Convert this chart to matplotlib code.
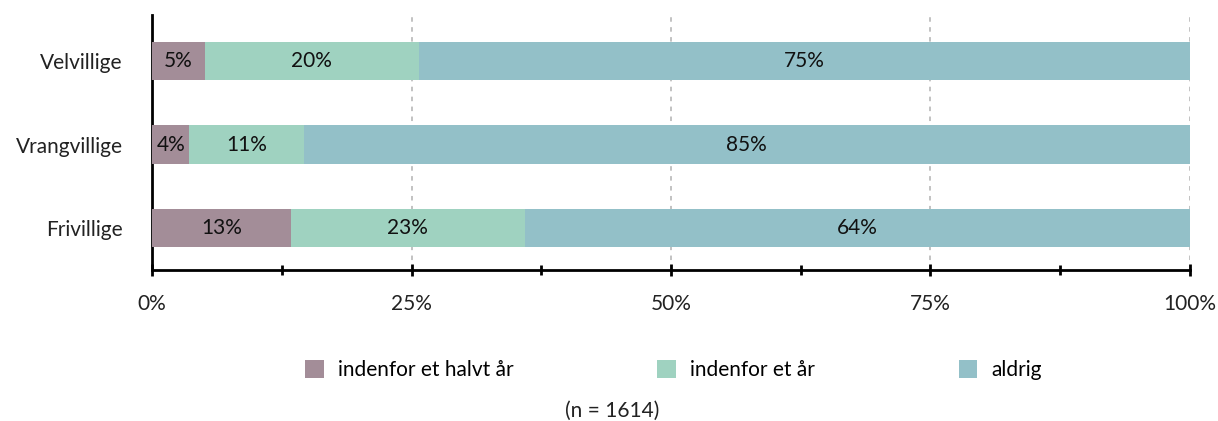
import numpy as np
import matplotlib.pyplot as plt
from matplotlib.patches import Patch
from matplotlib.ticker import MultipleLocator, PercentFormatter

plt.rcParams['font.family'] = ['Lato', 'DejaVu Sans']

# Data
groups = ["Velvillige", "Vrangvillige", "Frivillige"]
series = ["indenfor et halvt år", "indenfor et år", "aldrig"]
halvt_aar = [5.1, 3.6, 13.4]
et_aar = [20.6, 11.0, 22.5]
aldrig = [74.3, 85.4, 64.1]
bar_labels = [
    ["5%", "20%", "75%"],
    ["4%", "11%", "85%"],
    ["13%", "23%", "64%"],
]
n_total = 1614

colors = ["#A38D98", "#9FD2C0", "#93C0C8"]
fs = 15

fig = plt.figure(figsize=(12.18, 4.21), dpi=100)
ax = fig.add_axes([0.1248, 0.3587, 0.8522, 0.6053])

y = np.arange(len(groups))
left = np.zeros(len(groups))
for s, (vals, col) in enumerate(zip([halvt_aar, et_aar, aldrig], colors)):
    vals = np.array(vals)
    bars = ax.barh(y, vals, left=left, height=0.46, color=col, zorder=3)
    for i, b in enumerate(bars):
        ax.text(left[i] + vals[i] / 2, y[i], bar_labels[i][s],
                ha="center", va="center", fontsize=fs, color="#111111", zorder=4)
    left += vals

ax.set_xlim(0, 100)
ax.set_ylim(2.5, -0.55)
ax.set_yticks(y)
ax.set_yticklabels(groups, fontsize=fs, color="#222222")
ax.tick_params(axis="y", length=0, pad=21)

ax.xaxis.set_major_locator(MultipleLocator(25))
ax.xaxis.set_minor_locator(MultipleLocator(12.5))
ax.xaxis.set_major_formatter(PercentFormatter(decimals=0))
ax.tick_params(axis="x", which="major", direction="inout", length=9, width=2,
               labelsize=fs, labelcolor="#222222", pad=13)
ax.tick_params(axis="x", which="minor", direction="inout", length=7, width=2)

ax.grid(axis="x", which="major", linestyle=(0, (2.5, 3)), color="#BDBDBD",
        linewidth=1.3, zorder=0)

for side in ["top", "right"]:
    ax.spines[side].set_visible(False)
for side in ["left", "bottom"]:
    ax.spines[side].set_linewidth(2)
    ax.spines[side].set_color("black")

handles = [Patch(facecolor=c, edgecolor="none") for c in colors]
fig.legend(handles, series, loc="center", bbox_to_anchor=(0.553, 0.121), ncol=3,
           frameon=False, fontsize=fs, handlelength=0.9, handleheight=0.9,
           handletextpad=0.67, columnspacing=6.9)

fig.text(0.503, 0.024, f"(n = {n_total})", ha="center", va="center",
         fontsize=fs, color="#222222")

fig.savefig("out.png", dpi=100)
